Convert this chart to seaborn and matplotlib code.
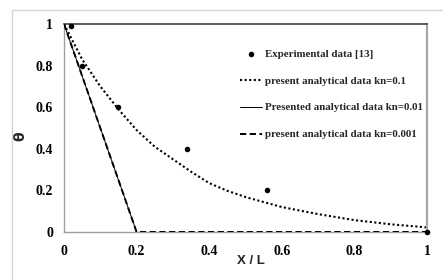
import matplotlib
matplotlib.use("Agg")
import matplotlib.pyplot as plt
import matplotlib.patches as mpatches
import seaborn as sns
import pandas as pd

# ---- data ----
exp_x = [0.02, 0.05, 0.148, 0.34, 0.56, 1.0]
exp_y = [0.99, 0.80, 0.60, 0.40, 0.20, 0.0]

kn01_x = [0, 0.05, 0.1, 0.15, 0.2, 0.25, 0.3, 0.35, 0.4, 0.45, 0.5, 0.6, 0.7, 0.8, 0.9, 1.0]
kn01_y = [1, 0.83, 0.70, 0.59, 0.49, 0.41, 0.35, 0.29, 0.235, 0.198, 0.168, 0.12, 0.086, 0.057, 0.037, 0.022]

kn001_x = [0, 0.2]
kn001_y = [1, 0.0]

kn0001_x = [0, 0.2, 1.0]
kn0001_y = [1, 0.0, 0.0]

x_ticks = [0, 0.2, 0.4, 0.6, 0.8, 1]
x_tick_labels = ["0", "0.2", "0.4", "0.6", "0.8", "1"]
y_ticks = [0, 0.2, 0.4, 0.6, 0.8, 1]
y_tick_labels = ["0", "0.2", "0.4", "0.6", "0.8", "1"]

labels = ["Experimental data [13]",
          "present analytical data kn=0.1",
          "Presented analytical data kn=0.01",
          "present analytical data kn=0.001"]

sns.set_style("white")
plt.rcParams["font.family"] = ["Liberation Serif", "DejaVu Serif"]

W, H = 443, 280
fig = plt.figure(figsize=(W / 100, H / 100), dpi=100)
ax = fig.add_axes([64 / W, 1 - 232 / H, (427 - 64) / W, (232 - 24) / H])

# outer light border (chart area)
fig.patches.append(mpatches.Rectangle((12 / W, -0.1), 1.2, 1 - 10 / H + 0.1,
                                      transform=fig.transFigure, fill=False,
                                      edgecolor="#d4d4d4", linewidth=1.0))

df_exp = pd.DataFrame({"x": exp_x, "y": exp_y})
df01 = pd.DataFrame({"x": kn01_x, "y": kn01_y})
df001 = pd.DataFrame({"x": kn001_x, "y": kn001_y})
df0001 = pd.DataFrame({"x": kn0001_x, "y": kn0001_y})

sns.lineplot(data=df0001, x="x", y="y", ax=ax, color="black", linewidth=1.4,
             sort=False, label=labels[3], zorder=3)
ax.lines[-1].set_dashes((3.2, 1.8))
sns.lineplot(data=df001, x="x", y="y", ax=ax, color="black", linewidth=0.7,
             sort=False, label=labels[2], zorder=2)
sns.lineplot(data=df01, x="x", y="y", ax=ax, color="black", linewidth=1.5,
             sort=False, label=labels[1], zorder=2)
ax.lines[-1].set_dashes((1.0, 1.2))
sns.scatterplot(data=df_exp, x="x", y="y", ax=ax, color="black", s=16,
                edgecolor="black", linewidth=0, label=labels[0], zorder=5,
                clip_on=False)

ax.set_xlim(0, 1)
ax.set_ylim(0, 1)
ax.set_xticks(x_ticks)
ax.set_xticklabels(x_tick_labels)
ax.set_yticks(y_ticks)
ax.set_yticklabels(y_tick_labels)
ax.tick_params(axis="both", direction="out", length=3, width=0.8,
               color="#a0a0a0", labelsize=10, labelcolor="black")
ax.tick_params(axis="x", pad=6.5)
ax.tick_params(axis="y", pad=5)
for t in ax.get_xticklabels() + ax.get_yticklabels():
    t.set_fontweight("bold")

for s in ["left", "bottom"]:
    ax.spines[s].set_color("#a0a0a0")
    ax.spines[s].set_linewidth(1.0)
ax.spines["top"].set_color("#404040")
ax.spines["top"].set_linewidth(1.2)
ax.spines["right"].set_color("#a8a8a8")
ax.spines["right"].set_linewidth(1.6)

ax.set_xlabel("X / L", family=["Liberation Sans", "DejaVu Sans"],
              fontweight="bold", fontsize=9.5)
ax.xaxis.set_label_coords((251 - 64) / 363, (232 - 255) / 208)
ax.set_ylabel("θ", family=["DejaVu Sans"], fontweight="bold", fontsize=10)
ax.yaxis.set_label_coords((27 - 64) / 363, (232 - 136) / 208)

handles, labs = ax.get_legend_handles_labels()
order = [labs.index(l) for l in labels]
leg = ax.legend([handles[i] for i in order], [labs[i] for i in order],
                loc="upper left", bbox_to_anchor=((240 - 64) / 363, (232 - 49) / 208),
                frameon=False, handlelength=2.0, handletextpad=0.3,
                labelspacing=1.6, borderpad=0, borderaxespad=0,
                prop={"weight": "bold", "size": 7.8})

fig.savefig("out.png", dpi=100)
